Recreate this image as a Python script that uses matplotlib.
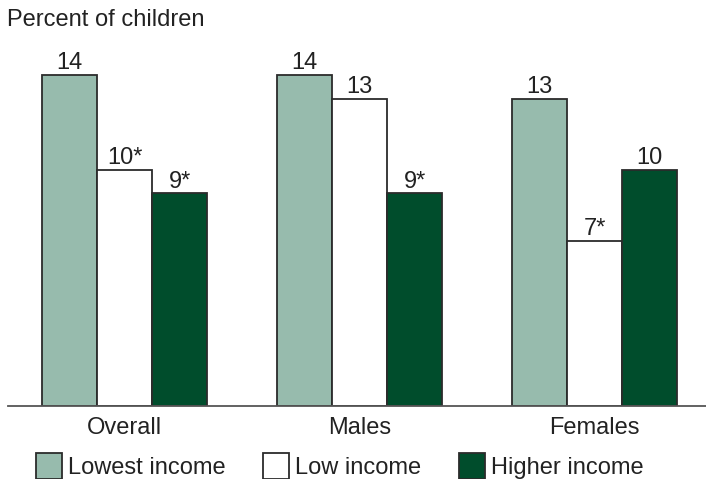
import matplotlib.pyplot as plt
from matplotlib.patches import Rectangle
import numpy as np

plt.rcParams['font.family'] = ['Liberation Sans', 'DejaVu Sans']

groups = ['Overall', 'Males', 'Females']
series = ['Lowest income', 'Low income', 'Higher income']
lowest = [14, 14, 13]
low = [10, 13, 7]
higher = [9, 9, 10]
lowest_lbl = ['14', '14', '13']
low_lbl = ['10*', '13', '7*']
higher_lbl = ['9*', '9*', '10']

colors = ['#97bbad', '#ffffff', '#004d2c']
edge = '#2b2b2b'
txt = '#222222'

W, H = 706, 479
fig = plt.figure(figsize=(W / 100, H / 100), dpi=100)
ax = fig.add_axes([8 / W, 73 / H, 1 - 8 / W, 0.74])

x = np.arange(len(groups))
w = 0.234
for i, (vals, lbls) in enumerate(zip([lowest, low, higher], [lowest_lbl, low_lbl, higher_lbl])):
    ax.bar(x + (i - 1) * w, vals, w, color=colors[i], edgecolor=edge,
           linewidth=1.3, zorder=2)
    for xi, v, t in zip(x + (i - 1) * w, vals, lbls):
        ax.text(xi, v + 0.24, t, ha='center', va='baseline', fontsize=17, color=txt)

ax.set_xlim(-0.496, 2.474)
ax.set_ylim(0, 15)
for s in ['top', 'right', 'left']:
    ax.spines[s].set_visible(False)
ax.spines['bottom'].set_color('#555555')
ax.spines['bottom'].set_linewidth(1.3)
ax.set_yticks([])
ax.set_xticks(x)
ax.set_xticklabels(groups, fontsize=17, color=txt)
ax.tick_params(axis='x', length=0, pad=8)

fig.text(7 / W, 1 - 9 / H, 'Percent of children', fontsize=17, color=txt, va='top')

# legend drawn by hand along the bottom edge
leg_x = [36, 263, 459]
for lx, name, c in zip(leg_x, series, colors):
    fig.add_artist(Rectangle((lx / W, 0.5 / H), 26 / W, 26 / H, transform=fig.transFigure,
                             facecolor=c, edgecolor=edge, linewidth=1.3))
    fig.text((lx + 32) / W, 11 / H, name, fontsize=17, color=txt, va='center')

fig.savefig('out.png', dpi=100)
